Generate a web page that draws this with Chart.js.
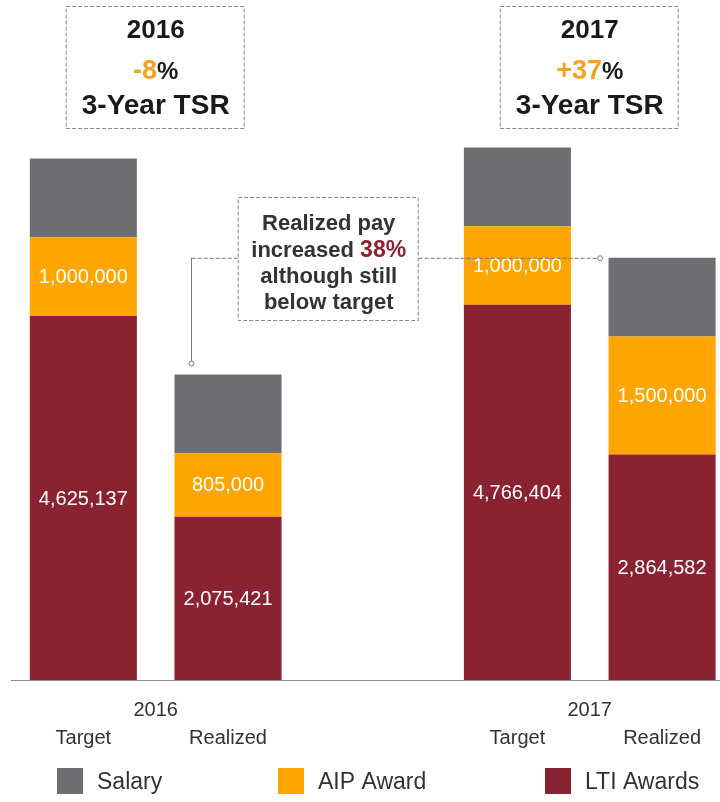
<!DOCTYPE html>
<html>
<head>
<meta charset="utf-8">
<script src="https://cdn.jsdelivr.net/npm/chart.js@4.4.1/dist/chart.umd.min.js"></script>
<style>
  html, body { margin: 0; padding: 0; background: #fff; overflow: hidden; width: 720px; height: 802px; }
  #wrap { width: 747px; height: 802px; }
</style>
</head>
<body>
<div id="wrap"><canvas id="pay-chart" width="747" height="802"></canvas></div>
<script>
const categories = ['Target', 'Realized', '', 'Target', 'Realized'];
const years = ['2016', '2017'];
const tsrValues = ['-8', '+37'];
const salary = [1000000, 1000000, null, 1000000, 1000000];
const aipAward = [1000000, 805000, null, 1000000, 1500000];
const ltiAwards = [4625137, 2075421, null, 4766404, 2864582];
const payIncrease = '38%';
const legendLabels = ['Salary', 'AIP Award', 'LTI Awards'];

const FONT = '"Liberation Sans", Arial, sans-serif';
const colors = { salary: '#6d6e71', aip: '#fea500', lti: '#8a2231', orange: '#f5a31c', text: '#333333' };

function total(j) {
    return salary[j] + aipAward[j] + ltiAwards[j];
}

function dashedRect(c, x, y, w, h) {
    c.save();
    c.strokeStyle = '#8a8a8a';
    c.lineWidth = 1;
    c.setLineDash([4, 2]);
    c.strokeRect(x + 0.5, y + 0.5, w, h);
    c.restore();
}

// draws two pieces of text side by side, centred on cx
function twoPart(c, cx, y, a, fontA, colA, b, fontB, colB) {
    c.font = fontA;
    let wa = c.measureText(a).width;
    c.font = fontB;
    let wb = c.measureText(b).width;
    let start = cx - (wa + wb) / 2;
    c.textAlign = 'left';
    c.font = fontA;
    c.fillStyle = colA;
    c.fillText(a, start, y);
    c.font = fontB;
    c.fillStyle = colB;
    c.fillText(b, start + wa, y);
}

const annotations = {
    id: 'annotations',
    afterDatasetsDraw(chart) {
        const c = chart.ctx;
        const xs = chart.scales.x;
        const ys = chart.scales.y;

        // values inside LTI and AIP segments
        c.save();
        c.font = '20px ' + FONT;
        c.fillStyle = '#fff';
        c.textAlign = 'center';
        c.textBaseline = 'middle';
        [0, 1].forEach(function(i) {
            const meta = chart.getDatasetMeta(i);
            const values = chart.data.datasets[i].data;
            meta.data.forEach(function(bar, j) {
                if (values[j] == null) return;
                c.fillText(values[j].toLocaleString('en-US'), bar.x, (bar.y + bar.base) / 2 + 1);
            });
        });
        c.restore();

        // year labels, TSR boxes
        c.save();
        c.textBaseline = 'alphabetic';
        for (let p = 0; p < years.length; p++) {
            let cx = (xs.getPixelForValue(p * 3) + xs.getPixelForValue(p * 3 + 1)) / 2;
            c.textAlign = 'center';
            c.fillStyle = colors.text;
            c.font = '20px ' + FONT;
            c.fillText(years[p], cx, 716);

            dashedRect(c, cx - 90, 6, 178, 122);
            c.fillStyle = '#1a1a1a';
            c.font = 'bold 26px ' + FONT;
            c.fillText(years[p], cx, 38);
            twoPart(c, cx, 79, tsrValues[p], 'bold 27px ' + FONT, colors.orange, '%', 'bold 24px ' + FONT, '#1a1a1a');
            c.textAlign = 'center';
            c.fillStyle = '#1a1a1a';
            c.font = 'bold 28px ' + FONT;
            c.fillText('3-Year TSR', cx, 114);
        }
        c.restore();

        // callout
        c.save();
        const bx = xs.getPixelForValue(2) - 135;
        const by = 197;
        dashedRect(c, bx, by, 180, 123);
        const lineY = ys.getPixelForValue(total(4));
        const leftX = xs.getPixelForValue(1) - 37;
        const leftEnd = ys.getPixelForValue(total(1)) - 13;
        const rightX = xs.getPixelForValue(4) - 64;
        c.strokeStyle = '#777';
        c.lineWidth = 1;
        c.setLineDash([4, 2]);
        c.beginPath();
        c.moveTo(bx, lineY + 0.5);
        c.lineTo(leftX, lineY + 0.5);
        c.moveTo(bx + 181, lineY + 0.5);
        c.lineTo(rightX, lineY + 0.5);
        c.stroke();
        c.setLineDash([]);
        c.beginPath();
        c.moveTo(leftX + 0.5, lineY);
        c.lineTo(leftX + 0.5, leftEnd);
        c.stroke();
        c.fillStyle = '#fff';
        [[leftX + 0.5, leftEnd + 2], [rightX + 2, lineY + 0.5]].forEach(function(pt) {
            c.beginPath();
            c.arc(pt[0], pt[1], 2.5, 0, Math.PI * 2);
            c.fill();
            c.stroke();
        });

        const cx = bx + 91;
        c.textAlign = 'center';
        c.fillStyle = colors.text;
        c.font = 'bold 22px ' + FONT;
        c.fillText('Realized pay', cx, 230);
        twoPart(c, cx, 257, 'increased ', 'bold 22px ' + FONT, colors.text, payIncrease, 'bold 23px ' + FONT, colors.lti);
        c.textAlign = 'center';
        c.fillStyle = colors.text;
        c.font = 'bold 22px ' + FONT;
        c.fillText('although still', cx, 283);
        c.fillText('below target', cx, 309);
        c.restore();

        // legend
        c.save();
        const legendColors = [colors.salary, colors.aip, colors.lti];
        const legendX = [57, 278, 545];
        c.font = '23px ' + FONT;
        c.textAlign = 'left';
        c.textBaseline = 'middle';
        for (let k = 0; k < legendLabels.length; k++) {
            c.fillStyle = legendColors[k];
            c.fillRect(legendX[k], 768, 26, 26);
            c.fillStyle = colors.text;
            c.fillText(legendLabels[k], legendX[k] + 40, 783);
        }
        c.restore();
    }
};

var ctx = document.getElementById('pay-chart').getContext('2d');
var payChart = new Chart(ctx, {
    type: 'bar',
    data: {
        labels: categories,
        datasets: [
            { label: 'LTI Awards', data: ltiAwards, backgroundColor: colors.lti },
            { label: 'AIP Award', data: aipAward, backgroundColor: colors.aip },
            { label: 'Salary', data: salary, backgroundColor: colors.salary }
        ]
    },
    options: {
        responsive: false,
        animation: false,
        devicePixelRatio: 1,
        barPercentage: 0.74,
        categoryPercentage: 1,
        layout: { padding: { left: 11, right: 0, top: 0, bottom: 6 } },
        plugins: {
            legend: { display: false },
            tooltip: { enabled: false }
        },
        scales: {
            x: {
                stacked: true,
                grid: { display: false, drawTicks: false },
                border: { display: true, color: '#8c8c8c', width: 1 },
                ticks: {
                    font: { size: 20, family: FONT },
                    color: colors.text,
                    padding: 46,
                    maxRotation: 0,
                    autoSkip: false
                }
            },
            y: {
                stacked: true,
                display: false,
                min: 0,
                max: 8640000
            }
        }
    },
    plugins: [annotations]
});
</script>
</body>
</html>
